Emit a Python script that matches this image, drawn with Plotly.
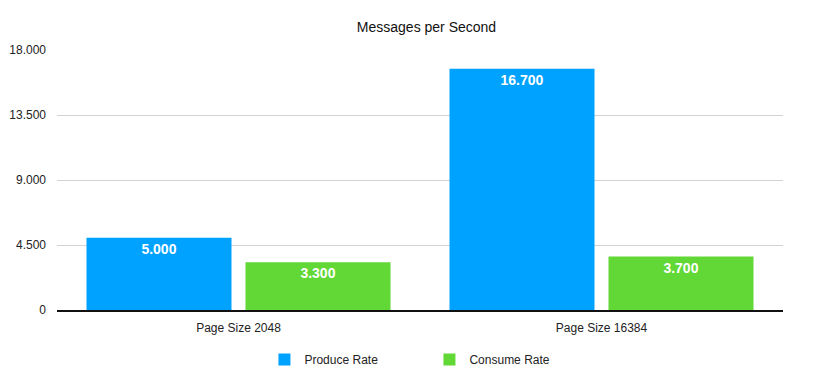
import plotly.graph_objects as go

categories = ["Page Size 2048", "Page Size 16384"]
produce_rate = [5000, 16700]
consume_rate = [3300, 3700]
y_ticks = [0, 4500, 9000, 13500, 18000]

FONT = "Liberation Sans, Arial, Helvetica, sans-serif"

fig = go.Figure()
fig.add_trace(go.Bar(
    name="Produce Rate", x=categories, y=produce_rate,
    marker=dict(color="#00A2FF", line=dict(width=0)),
    texttemplate="<b>%{y:,.0f}</b>", textposition="inside", insidetextanchor="end",
    textfont=dict(color="white", size=14, family=FONT),
))
fig.add_trace(go.Bar(
    name="Consume Rate", x=categories, y=consume_rate,
    marker=dict(color="#61D836", line=dict(width=0)),
    texttemplate="<b>%{y:,.0f}</b>", textposition="inside", insidetextanchor="end",
    textfont=dict(color="white", size=14, family=FONT),
))

fig.update_layout(
    width=837, height=381,
    margin=dict(l=49, r=62, t=42, b=79, autoexpand=False),
    paper_bgcolor="white", plot_bgcolor="white",
    separators=",.",
    font=dict(family=FONT, size=12, color="#222222"),
    title=dict(text="Messages per Second", x=0.5, xanchor="center", y=0.950, yanchor="middle",
               font=dict(size=14, color="#111111", family=FONT)),
    barmode="group", bargap=0.124, bargroupgap=0.088,
    showlegend=True,
    legend=dict(orientation="h", x=0.513, xanchor="center", y=-0.19, yanchor="middle",
                font=dict(size=12, color="#222222", family=FONT),
                entrywidth=120, entrywidthmode="pixels", itemwidth=30),
)
fig.update_yaxes(range=[0, 18000], tickvals=y_ticks, tickformat=",.0f",
                 showgrid=True, gridcolor="#d3d3d3", gridwidth=1, automargin=False,
                 zeroline=False, showline=False, ticks="", ticklabelstandoff=10,
                 tickfont=dict(size=12, color="#222222"))
fig.update_xaxes(showline=True, linecolor="#111111", linewidth=1.5, ticks="", automargin=False,
                 ticklabelstandoff=6, tickfont=dict(size=12, color="#222222"))

fig.write_html("out.html")
